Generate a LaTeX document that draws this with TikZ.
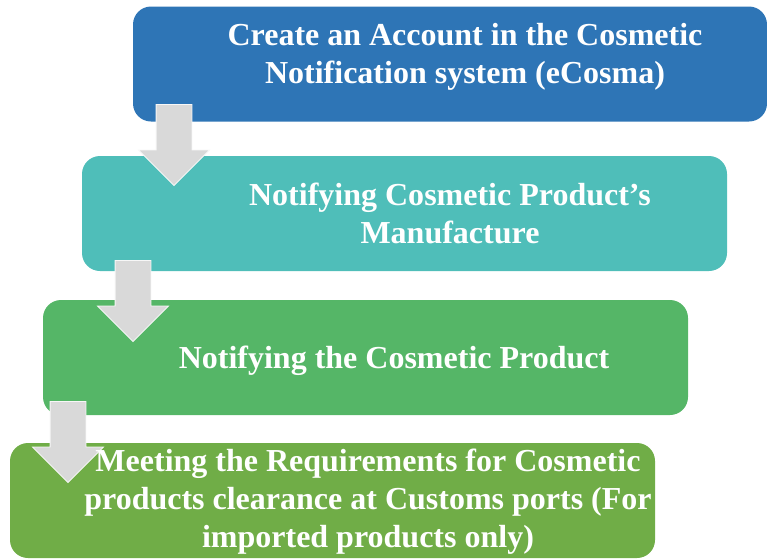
\documentclass[tikz,border=0pt]{standalone}
\usepackage{fontspec}
\setmainfont{Liberation Serif}
\usetikzlibrary{shapes.arrows}
\definecolor{bleu}{HTML}{2E75B6}
\definecolor{turquoise}{HTML}{4FBEB9}
\definecolor{vert}{HTML}{55B667}
\definecolor{olive}{HTML}{70AD47}
\definecolor{grisfleche}{HTML}{D9D9D9}
\begin{document}
\begin{tikzpicture}[x=1pt,y=-1pt,
  etape/.style={rounded corners=18pt, minimum width=645pt, minimum height=115pt, inner sep=0pt},
  texte/.style={text=white, font=\fontsize{32}{38}\selectfont\bfseries, align=center, inner sep=0pt},
  fleche/.style={single arrow, fill=grisfleche, draw=white!80!grisfleche, line width=0.8pt, minimum height=81pt, minimum width=70pt, single arrow head extend=17.5pt, inner sep=17.5pt, shape border rotate=270, anchor=tip}]
\useasboundingbox (0,0) rectangle (767,558);
%les 4 etapes
\node[etape, fill=bleu, minimum width=634pt] (b1) at (450,64) {};
\node[etape, fill=turquoise] (b2) at (404.5,213.5) {};
\node[etape, fill=vert] (b3) at (365.5,357.5) {};
\node[etape, fill=olive] (b4) at (332.5,500.5) {};
%fleches grises (position de la pointe)
\node[fleche] (f1) at (174,186) {};
\node[fleche] (f2) at (133,342) {};
\node[fleche] (f3) at (68,483) {};
%textes
\node[texte] (t1) at (465,57) {Create an Account in the Cosmetic\\Notification system (eCosma)};
\node[texte] (t2) at (450,213) {Notifying Cosmetic Product’s\\Manufacture};
\node[texte] (t3) at (394,361) {Notifying the Cosmetic Product};
\node[texte] (t4) at (368,502) {Meeting the Requirements for Cosmetic\\products clearance at Customs ports (For\\imported products only)};
\end{tikzpicture}
\end{document}
